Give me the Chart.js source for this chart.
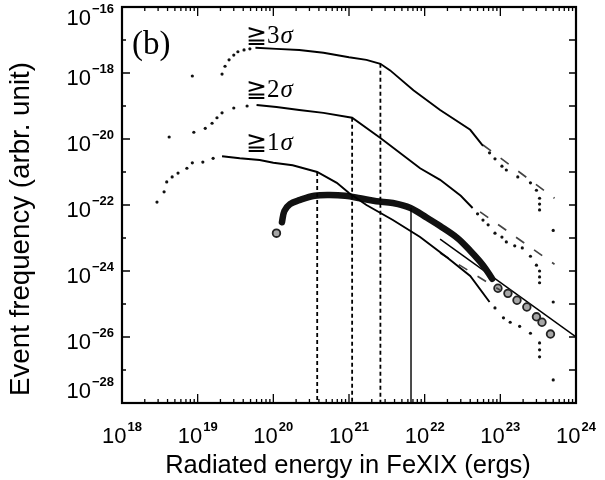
<!DOCTYPE html>
<html>
<head>
<meta charset="utf-8">
<script src="https://cdn.jsdelivr.net/npm/chart.js@4/dist/chart.umd.min.js"></script>
<style>
  body { margin: 0; background: #fff; }
  #wrap { width: 605px; height: 480px; }
</style>
</head>
<body>
<div id="wrap"><canvas id="graph" width="605" height="480"></canvas></div>
<script>
// axis decades
const xDecades = [1e18, 1e19, 1e20, 1e21, 1e22, 1e23, 1e24];
const xExp = ["18", "19", "20", "21", "22", "23", "24"];
const yDecades = [1e-28, 1e-27, 1e-26, 1e-25, 1e-24, 1e-23, 1e-22, 1e-21, 1e-20, 1e-19, 1e-18, 1e-17, 1e-16];
const yLabelVals = [1e-16, 1e-18, 1e-20, 1e-22, 1e-24, 1e-26, 1e-28];
const yExp = ["\u221216", "\u221218", "\u221220", "\u221222", "\u221224", "\u221226", "\u221228"];

// >=3 sigma
const s3RiseE = [8.5e18, 2.1e19, 2.3e19, 2.6e19, 3.0e19, 3.4e19, 4.1e19, 4.9e19];
const s3RiseF = [8.1e-19, 9.3e-19, 1.6e-18, 2.5e-18, 3.5e-18, 4.4e-18, 5.0e-18, 5.4e-18];
const s3LineE = [5.8e19, 1.1e20, 2.2e20, 4.6e20, 1.0e21, 1.7e21, 2.6e21, 3.5e21, 7.1e21, 1.6e22, 4.0e22, 5.9e22];
const s3LineF = [5.8e-18, 5.4e-18, 5.0e-18, 4.1e-18, 3.0e-18, 2.5e-18, 1.9e-18, 1.2e-18, 3.0e-19, 7.6e-20, 1.9e-20, 6.2e-21];
const s3TailE = [7.2e22, 8.5e22, 1.05e23, 1.2e23, 1.7e23, 2.5e23, 3.0e23, 3.3e23, 3.3e23, 3.3e23, 5.0e23];
const s3TailF = [3.8e-21, 2.5e-21, 1.5e-21, 1.15e-21, 7.1e-22, 4.7e-22, 2.8e-22, 1.6e-22, 1.07e-22, 7.1e-23, 1.7e-23];
const s3FitE = [5.9e22, 5.2e23];
const s3FitF = [6.6e-21, 1.6e-22];

// >=2 sigma
const s2RiseE = [4.2e18, 8.9e18, 1.26e19, 1.55e19, 1.8e19, 2.1e19, 3.0e19, 4.5e19];
const s2RiseF = [1.15e-20, 1.6e-20, 2.1e-20, 3.0e-20, 4.4e-20, 6.2e-20, 8.7e-20, 1.0e-19];
const s2LineE = [6.0e19, 1.1e20, 2.2e20, 4.6e20, 1.1e21, 2.6e21, 8.7e21, 1.6e22, 3.0e22, 4.3e22];
const s2LineF = [1.07e-19, 9.3e-20, 7.6e-20, 6.2e-20, 4.4e-20, 1.07e-20, 1.3e-21, 5.8e-22, 1.9e-22, 8.1e-23];
const s2TailE = [5.0e22, 5.9e22, 6.9e22, 8.5e22, 1.05e23, 1.2e23, 1.55e23, 1.95e23, 2.5e23, 3.0e23, 3.3e23, 3.3e23, 3.3e23, 5.0e23];
const s2TailF = [5.4e-23, 3.5e-23, 2.5e-23, 1.4e-23, 1.07e-23, 7.6e-24, 5.8e-24, 5.0e-24, 2.8e-24, 1.5e-24, 1.0e-24, 6.6e-25, 4.4e-25, 1.15e-25];
const s2FitE = [5.4e22, 5.2e23];
const s2FitF = [6.2e-23, 1.6e-24];

// >=1 sigma
const s1RiseE = [2.9e18, 3.6e18, 3.9e18, 4.6e18, 5.5e18, 7.2e18, 8.5e18, 1.17e19, 1.6e19];
const s1RiseF = [1.23e-22, 2.5e-22, 5.0e-22, 7.1e-22, 9.3e-22, 1.3e-21, 1.9e-21, 2.0e-21, 2.6e-21];
const s1LineE = [2.1e19, 3.6e19, 6.6e19, 1.0e20, 1.8e20, 3.8e20, 6.9e20, 1.0e21, 1.7e21, 3.8e21, 8.7e21, 2.0e22, 4.0e22, 7.2e22];
const s1LineF = [3.0e-21, 2.6e-21, 2.3e-21, 1.9e-21, 1.6e-21, 1.0e-21, 4.7e-22, 2.3e-22, 1.0e-22, 3.5e-23, 1.07e-23, 2.5e-24, 7.1e-25, 1.15e-25];
const s1TailE = [8.5e22, 1.1e23, 1.35e23, 1.8e23, 2.5e23, 3.3e23, 3.3e23, 3.3e23, 5.0e23];
const s1TailF = [7.6e-26, 3.8e-26, 2.8e-26, 2.1e-26, 1.3e-26, 6.6e-27, 4.1e-27, 2.5e-27, 5.0e-28];
const s1FitE = [1.6e22, 1.0e23];
const s1FitF = [3.5e-24, 2.6e-25];

// observed events (circles)
const obsBandE = [1.3e20, 1.4e20, 1.66e20, 2.2e20, 3.5e20, 5.6e20, 8.9e20, 1.4e21, 2.3e21, 3.8e21, 6.5e21, 1.07e22, 1.6e22, 2.7e22, 4.0e22, 5.9e22, 7.8e22];
const obsBandF = [3.0e-23, 6.6e-23, 1.07e-22, 1.4e-22, 1.9e-22, 2.0e-22, 1.9e-22, 1.6e-22, 1.3e-22, 1.15e-22, 8.1e-23, 4.1e-23, 2.3e-23, 1.0e-23, 4.1e-24, 1.5e-24, 5.8e-25];
const obsDotE = [1.1e20, 9.3e22, 1.26e23, 1.66e23, 2.24e23, 3.0e23, 3.55e23, 4.6e23];
const obsDotF = [1.4e-23, 3.0e-25, 2.1e-25, 1.3e-25, 8.1e-26, 4.1e-26, 2.8e-26, 1.23e-26];
const obsFitE = [1.6e22, 1.0e24];
const obsFitF = [9.3e-24, 1.0e-26];

// break energies (vertical markers)
const breakE = [3.8e20, 1.1e21, 2.6e21, 6.6e21];
const breakTopF = [1.0e-21, 4.4e-20, 1.9e-18, 8.1e-23];

function pts(E, F) {
  return E.map(function (e, i) { return { x: e, y: F[i] }; });
}

const lineSet = (data, w) => ({ data: data, showLine: true, borderColor: "#000", borderWidth: w, pointRadius: 0, fill: false });
const dotSet = (data) => ({ data: data, showLine: false, pointRadius: 1.6, pointBorderWidth: 0, pointBackgroundColor: "#111" });
const dashSet = (data) => ({ data: data, showLine: true, borderColor: "#444", borderWidth: 1.7, borderDash: [10, 12], pointRadius: 0 });

const datasets = [];
for (let i = 0; i < 3; i++) {
  let d = lineSet(pts([breakE[i], breakE[i]], [breakTopF[i], 1e-28]), 1.8);
  d.borderDash = [4, 3];
  datasets.push(d);
}
datasets.push(lineSet(pts([breakE[3], breakE[3]], [breakTopF[3], 1e-28]), 1.4));

datasets.push(lineSet(pts(s3LineE, s3LineF), 1.9));
datasets.push(lineSet(pts(s2LineE, s2LineF), 1.9));
datasets.push(lineSet(pts(s1LineE, s1LineF), 1.9));
datasets.push(dotSet(pts(s3RiseE, s3RiseF)));
datasets.push(dotSet(pts(s2RiseE, s2RiseF)));
datasets.push(dotSet(pts(s1RiseE, s1RiseF)));
datasets.push(dotSet(pts(s3TailE, s3TailF)));
datasets.push(dotSet(pts(s2TailE, s2TailF)));
datasets.push(dotSet(pts(s1TailE, s1TailF)));
datasets.push(dashSet(pts(s3FitE, s3FitF)));
datasets.push(dashSet(pts(s2FitE, s2FitF)));
datasets.push(dashSet(pts(s1FitE, s1FitF)));

let band = lineSet(pts(obsBandE, obsBandF), 6.5);
band.tension = 0.35;
band.borderColor = "#111";
band.borderCapStyle = "round";
datasets.push(band);
datasets.push({
  data: pts(obsDotE, obsDotF), showLine: false, pointRadius: 3.8,
  pointBorderWidth: 1.8, pointBorderColor: "#222", pointBackgroundColor: "rgba(0,0,0,0.35)"
});
datasets.push(lineSet(pts(obsFitE, obsFitF), 1.5));

const TXT = "'Liberation Sans', Arial, sans-serif";
const SERIF = "'Liberation Serif', 'Times New Roman', serif";

function powLabel(ctx, x, base, exp, align) {
  ctx.font = "22px " + TXT;
  const w1 = ctx.measureText("10").width;
  ctx.font = "bold 13px " + TXT;
  const w2 = ctx.measureText(exp).width;
  let sx = align === "right" ? x - w1 - w2 - 1 : x - (w1 + w2 + 1) / 2;
  ctx.textAlign = "left";
  ctx.textBaseline = "alphabetic";
  ctx.font = "22px " + TXT;
  ctx.fillText("10", sx, base);
  ctx.font = "bold 13px " + TXT;
  ctx.fillText(exp, sx + w1 + 1, base - 12);
}

function fitText(ctx, text, target, style) {
  ctx.font = style + " 20px " + TXT;
  const w = ctx.measureText(text).width;
  return style + " " + (20 * target / w).toFixed(1) + "px " + TXT;
}

const framePlugin = {
  id: "frame",
  afterDatasetsDraw(chart) {
    const ctx = chart.ctx, a = chart.chartArea;
    const xs = chart.scales.x, ys = chart.scales.y;
    ctx.save();
    ctx.strokeStyle = "#000";
    ctx.fillStyle = "#000";
    ctx.lineWidth = 1.3;
    ctx.beginPath();
    // x ticks, bottom and top, inward
    xDecades.forEach(function (d, i) {
      const px = xs.getPixelForValue(d);
      ctx.moveTo(px, a.bottom); ctx.lineTo(px, a.bottom - 9);
      ctx.moveTo(px, a.top); ctx.lineTo(px, a.top + 9);
      if (i < xDecades.length - 1) {
        for (let m = 2; m <= 9; m++) {
          const q = xs.getPixelForValue(m * d);
          ctx.moveTo(q, a.bottom); ctx.lineTo(q, a.bottom - 4);
          ctx.moveTo(q, a.top); ctx.lineTo(q, a.top + 4);
        }
      }
    });
    // y ticks, every decade
    yDecades.forEach(function (d, i) {
      const py = ys.getPixelForValue(d);
      const len = i % 2 === 0 ? 8 : 4;
      ctx.moveTo(a.left, py); ctx.lineTo(a.left + len, py);
      ctx.moveTo(a.right, py); ctx.lineTo(a.right - 7, py);
    });
    ctx.stroke();
    ctx.lineWidth = 2.2;
    ctx.strokeRect(a.left, a.top, a.right - a.left, a.bottom - a.top);

    // tick labels
    xDecades.forEach(function (d, i) {
      powLabel(ctx, xs.getPixelForValue(d), 443, xExp[i], "center");
    });
    yLabelVals.forEach(function (d, i) {
      let py = ys.getPixelForValue(d);
      let shift = 0;
      if (i === 0) shift = 6;
      if (i === yLabelVals.length - 1) shift = -17;
      powLabel(ctx, 114, py + 12 + shift, yExp[i], "right");
    });

    // axis titles
    const xt = "Radiated energy in FeXIX (ergs)";
    ctx.font = fitText(ctx, xt, 366, "normal");
    ctx.textAlign = "center";
    ctx.textBaseline = "alphabetic";
    ctx.fillText(xt, 348, 473);
    const yt = "Event frequency (arbr. unit)";
    ctx.save();
    ctx.translate(29, 229);
    ctx.rotate(-Math.PI / 2);
    ctx.font = fitText(ctx, yt, 334, "normal");
    ctx.fillText(yt, 0, 0);
    ctx.restore();

    // panel label and curve labels
    ctx.textAlign = "left";
    ctx.font = "33px " + SERIF;
    ctx.fillText("(b)", 132, 54);
    const sigmaLabels = [["\u22673", 43], ["\u22672", 97], ["\u22671", 150]];
    sigmaLabels.forEach(function (s) {
      ctx.font = "25px " + SERIF;
      ctx.fillText(s[0], 246, s[1]);
      const w = ctx.measureText(s[0]).width;
      ctx.font = "italic 25px " + SERIF;
      ctx.fillText("\u03c3", 246 + w + 1, s[1]);
    });
    ctx.restore();
  }
};

new Chart(document.getElementById("graph").getContext("2d"), {
  type: "scatter",
  data: { datasets: datasets },
  options: {
    responsive: false,
    animation: false,
    events: [],
    layout: { padding: { left: 122, right: 29, top: 7, bottom: 77 } },
    scales: {
      x: { type: "logarithmic", min: 1e18, max: 1e24, display: false },
      y: { type: "logarithmic", min: 1e-28, max: 1e-16, display: false },
    },
    plugins: { legend: { display: false }, tooltip: { enabled: false } },
  },
  plugins: [framePlugin],
});
</script>
</body>
</html>
